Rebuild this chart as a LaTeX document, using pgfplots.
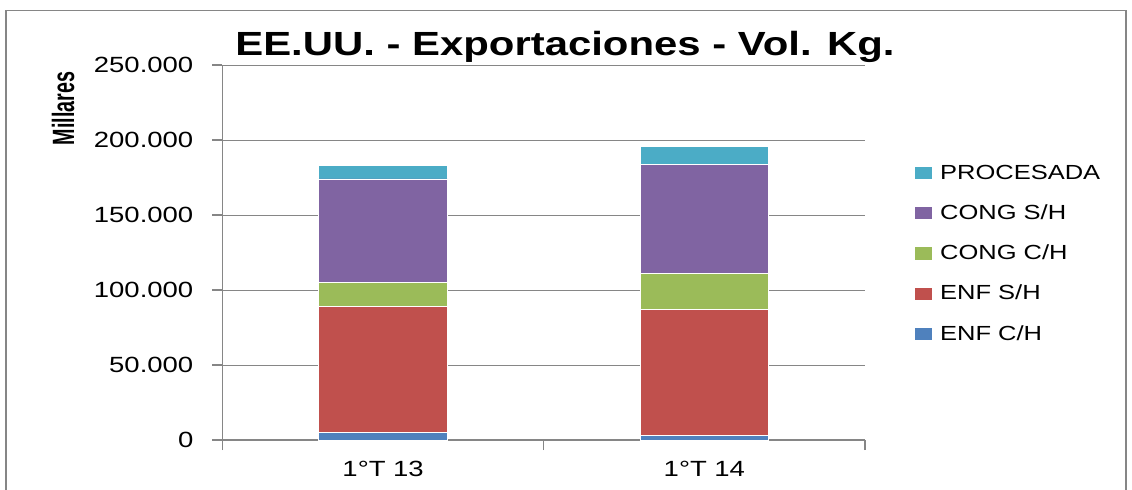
\documentclass[border=0pt]{standalone}
\usepackage{fontspec}
\setmainfont{Liberation Sans}[FakeStretch=1.25]
\newfontfamily\plainsans{Liberation Sans}
\usepackage{pgfplots}
\pgfplotsset{compat=1.18}
\definecolor{cA}{HTML}{4F81BD}
\definecolor{cB}{HTML}{C0504D}
\definecolor{cC}{HTML}{9BBB59}
\definecolor{cD}{HTML}{8064A2}
\definecolor{cE}{HTML}{4BACC6}
\definecolor{axgray}{HTML}{868686}
\begin{document}
\begin{tikzpicture}
\useasboundingbox (0,0) rectangle (566pt,244.5pt);
\draw[axgray, line width=0.75pt] (3pt,-2pt) -- (3pt,239.25pt) -- (563pt,239.25pt) -- (563pt,-2pt);
\node[anchor=base, inner sep=0pt] at (282.5pt,217pt)
  {\bfseries\fontsize{16.75}{18}\selectfont EE.UU. - Exportaciones - Vol. Kg.};
\node[anchor=base, inner sep=0pt, rotate=90] at (37pt,190.3pt)
  {\scalebox{0.64}[1]{\plainsans\bfseries\fontsize{15.4}{16}\selectfont Millares}};
\begin{axis}[
  at={(111.25pt,24.5pt)}, anchor=south west,
  scale only axis, width=321.25pt, height=187.5pt,
  ybar stacked, bar width=64.3pt,
  xmin=-0.5, xmax=1.5, ymin=0, ymax=250000,
  axis x line*=bottom, axis y line*=left,
  axis line style={-, draw=axgray, line width=0.65pt},
  tick align=outside, major tick length=5pt,
  tick style={axgray, line width=0.65pt},
  ymajorgrids, grid style={axgray, line width=0.5pt},
  ytick={0,50000,100000,150000,200000,250000},
  yticklabels={0,50.000,100.000,150.000,200.000,250.000},
  scaled y ticks=false,
  xtick={-0.5,0.5,1.5}, xticklabels={},
  extra x ticks={0,1}, extra x tick labels={1°T 13,1°T 14},
  extra x tick style={major tick length=0pt},
  tick label style={font=\fontsize{11}{13}\selectfont, inner sep=0pt},
  yticklabel style={anchor=east, xshift=-9.4pt},
  xticklabel style={anchor=base, yshift=-18.35pt},
  reverse legend,
  legend style={draw=none, fill=none, inner sep=0pt, outer sep=0pt,
    at={(1.0778,0.7349)}, anchor=north west,
    font=\fontsize{10.2}{12}\selectfont,
    nodes={inner sep=0pt, text height=7.3pt, text depth=0pt},
    row sep=12.85pt, column sep=4.2pt},
  legend cell align=left,
  legend image code/.code={\fill[#1, draw=none] (0pt,-3.65pt) rectangle (8.35pt,2.5pt);},
]
\addplot[fill=cA, draw=white, line width=0.35pt] coordinates {(0,5300) (1,3200)};
\addplot[fill=cB, draw=white, line width=0.35pt] coordinates {(0,83600) (1,84000)};
\addplot[fill=cC, draw=white, line width=0.35pt] coordinates {(0,16200) (1,24000)};
\addplot[fill=cD, draw=white, line width=0.35pt] coordinates {(0,69000) (1,72400)};
\addplot[fill=cE, draw=white, line width=0.35pt] coordinates {(0,9100) (1,12100)};
\legend{ENF C/H, ENF S/H, CONG C/H, CONG S/H, PROCESADA}
\end{axis}
\end{tikzpicture}
\end{document}
